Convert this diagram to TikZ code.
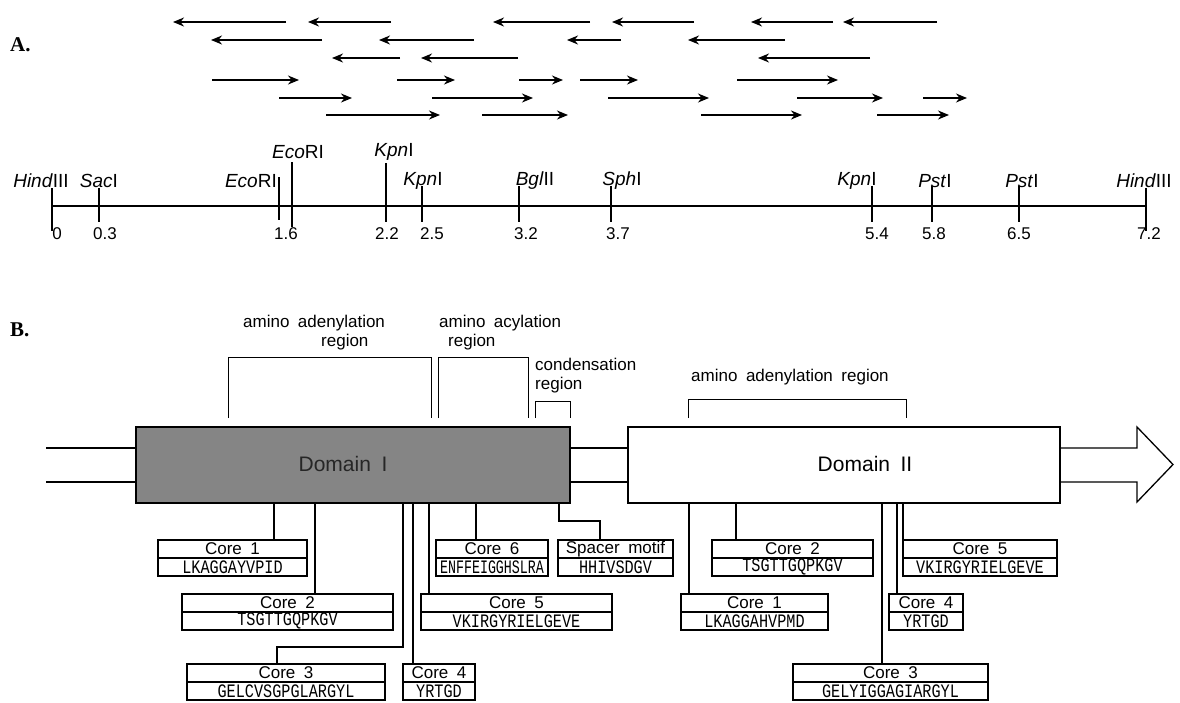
\documentclass[tikz,border=0pt]{standalone}
\usepackage{fontspec}
\setmainfont{Liberation Sans}
\setmonofont{Liberation Mono}
\newfontfamily\figletter{Liberation Serif}
\usepackage{graphicx}
\usetikzlibrary{arrows.meta,positioning}
\newcommand{\aaseq}[2][0.8]{\scalebox{#1}[1]{#2}}

\begin{document}
\begin{tikzpicture}[
  x=1pt, y=-1pt,
  font=\fontsize{17}{19}\selectfont,
  panel/.style={font=\figletter\bfseries\fontsize{21}{21}\selectfont, inner sep=0pt},
  seqread/.style={-{Stealth[length=11pt,width=9pt,inset=3.5pt]}, line width=1.3pt},
  rsite/.style={font=\fontsize{19}{21}\selectfont, inner sep=0pt},
  kb/.style={font=\fontsize{17}{19}\selectfont, inner sep=0pt},
  sitetick/.style={line width=1.4pt},
  regbracket/.style={line width=0.9pt},
  reglabel/.style={inner sep=0pt, anchor=west},
  dombox/.style={draw, line width=1.6pt, minimum height=76pt, inner sep=0pt, outer sep=0pt},
  domtext/.style={font=\fontsize{21}{23}\selectfont, inner sep=0pt},
  strand/.style={line width=1.3pt},
  corehead/.style={draw, line width=1.4pt, minimum height=18pt, inner sep=0pt, outer sep=0pt},
  coreseq/.style={draw, line width=1.4pt, minimum height=18pt, inner sep=0pt, outer sep=0pt,
                  font=\ttfamily\fontsize{19}{19}\selectfont},
  link/.style={line width=1.4pt}
]
\useasboundingbox (0,0) rectangle (1180,702);

% --- A: sequenced fragments ---
\node[panel, anchor=west] (panA) at (10,45) {A.};
\draw[seqread] (286,22) -- (173,22);  \draw[seqread] (391,22) -- (308,22);
\draw[seqread] (590,22) -- (493,22);  \draw[seqread] (694,22) -- (612,22);
\draw[seqread] (833,22) -- (751,22);  \draw[seqread] (937,22) -- (843,22);
\draw[seqread] (322,40) -- (211,40);  \draw[seqread] (474,40) -- (379,40);
\draw[seqread] (621,40) -- (567,40);  \draw[seqread] (785,40) -- (688,40);
\draw[seqread] (400,58) -- (332,58);  \draw[seqread] (518,58) -- (421,58);
\draw[seqread] (870,58) -- (758,58);
\draw[seqread] (212,80) -- (299,80);  \draw[seqread] (397,80) -- (455,80);
\draw[seqread] (519,80) -- (563,80);  \draw[seqread] (580,80) -- (638,80);
\draw[seqread] (737,80) -- (838,80);
\draw[seqread] (279,98) -- (352,98);  \draw[seqread] (432,98) -- (533,98);
\draw[seqread] (608,98) -- (709,98);  \draw[seqread] (797,98) -- (883,98);
\draw[seqread] (923,98) -- (967,98);
\draw[seqread] (326,115) -- (440,115); \draw[seqread] (482,115) -- (568,115);
\draw[seqread] (701,115) -- (802,115); \draw[seqread] (877,115) -- (949,115);

% --- A: restriction map ---
\draw[line width=1.7pt] (52,206) -- (1146,206);
\draw[sitetick] (52,188) -- (52,231);
\draw[sitetick] (99,188) -- (99,222);
\draw[sitetick] (279,177) -- (279,220);
\draw[sitetick] (292,162) -- (292,227);
\draw[sitetick] (386,163) -- (386,222);
\draw[sitetick] (422,186) -- (422,222);
\draw[sitetick] (519,186) -- (519,222);
\draw[sitetick] (611,186) -- (611,222);
\draw[sitetick] (872,186) -- (872,222);
\draw[sitetick] (932,186) -- (932,222);
\draw[sitetick] (1019,186) -- (1019,222);
\draw[sitetick] (1146,188) -- (1146,231);
\node[rsite] (hind1) at (41,181) {\textit{Hind}III};
\node[rsite] (sac) at (99,181) {\textit{Sac}I};
\node[rsite, anchor=east] (eco1) at (277,181) {\textit{Eco}RI};
\node[rsite] (eco2) at (298,152) {\textit{Eco}RI};
\node[rsite] (kpn1) at (394,152) {\textit{Kpn}I};
\node[rsite] (kpn2) at (423,181) {\textit{Kpn}I};
\node[rsite] (bgl) at (535,181) {\textit{Bgl}II};
\node[rsite] (sph) at (622,181) {\textit{Sph}I};
\node[rsite] (kpn3) at (857,181) {\textit{Kpn}I};
\node[rsite] (pst1) at (935,181) {\textit{Pst}I};
\node[rsite] (pst2) at (1022,181) {\textit{Pst}I};
\node[rsite] (hind2) at (1144,181) {\textit{Hind}III};
\node[kb] (k00) at (57,234) {0};
\node[kb] (k03) at (105,234) {0.3};
\node[kb] (k16) at (286,234) {1.6};
\node[kb] (k22) at (387,234) {2.2};
\node[kb] (k25) at (432,234) {2.5};
\node[kb] (k32) at (526,234) {3.2};
\node[kb] (k37) at (618,234) {3.7};
\node[kb] (k54) at (877,234) {5.4};
\node[kb] (k58) at (934,234) {5.8};
\node[kb] (k65) at (1019,234) {6.5};
\node[kb] (k72) at (1149,234) {7.2};

% --- B: regions ---
\node[panel, anchor=west] (panB) at (10,330) {B.};
\node[reglabel] (ad1a) at (243,323) {amino\enspace adenylation};
\node[reglabel] (ad1b) at (321,342) {region};
\node[reglabel] (acya) at (439,323) {amino\enspace acylation};
\node[reglabel] (acyb) at (448,342) {region};
\node[reglabel, align=left] (cond) at (535,376) {condensation\\region};
\node[reglabel] (ad2) at (691,377) {amino\enspace adenylation\enspace region};
\draw[regbracket] (228,418) |- (431,357) -- (431,418);
\draw[regbracket] (438,418) |- (528,357) -- (528,418);
\draw[regbracket] (535,418) |- (570,401) -- (570,418);
\draw[regbracket] (688,418) |- (906,399) -- (906,418);

% --- B: domains ---
\node[dombox, fill=black!48, minimum width=434pt] (dom1) at (353,465) {};
\node[domtext, text=black!85] (dom1t) at (343,464) {Domain\enspace I};
\node[dombox, fill=white, minimum width=432pt] (dom2) at (844,465) {};
\node[domtext] (dom2t) at (865,464) {Domain\enspace II};
\draw[strand] ([yshift=17pt]dom1.west) -- ++(-90,0);
\draw[strand] ([yshift=-17pt]dom1.west) -- ++(-90,0);
\draw[strand] ([yshift=17pt]dom1.east) -- ([yshift=17pt]dom2.west);
\draw[strand] ([yshift=-17pt]dom1.east) -- ([yshift=-17pt]dom2.west);
\draw[strand] ([yshift=17pt]dom2.east) -- ++(77,0) -- ++(0,-21) -- ++(36,37.5)
  -- ++(-36,37.5) -- ++(0,-20) -- ([yshift=-17pt]dom2.east);

% --- B: domain I cores ---
\node[corehead, minimum width=149pt] (ac1h) at (232.5,549) {Core\enspace 1};
\node[coreseq, minimum width=149pt, below=0pt of ac1h] (ac1s) {\aaseq{LKAGGAYVPID}};
\node[corehead, minimum width=211pt] (ac2h) at (287.5,603) {Core\enspace 2};
\node[coreseq, minimum width=211pt, below=0pt of ac2h] (ac2s) {\aaseq{TSGTTGQPKGV}};
\node[corehead, minimum width=198pt] (ac3h) at (286,673) {Core\enspace 3};
\node[coreseq, minimum width=198pt, below=0pt of ac3h] (ac3s) {\aaseq{GELCVSGPGLARGYL}};
\node[corehead, minimum width=72pt] (ac4h) at (439,673) {Core\enspace 4};
\node[coreseq, minimum width=72pt, below=0pt of ac4h] (ac4s) {\aaseq{YRTGD}};
\node[corehead, minimum width=191pt] (ac5h) at (516.5,603) {Core\enspace 5};
\node[coreseq, minimum width=191pt, below=0pt of ac5h] (ac5s) {\aaseq{VKIRGYRIELGEVE}};
\node[corehead, minimum width=112pt] (ac6h) at (492,549) {Core\enspace 6};
\node[coreseq, minimum width=112pt, below=0pt of ac6h] (ac6s) {\aaseq[0.7]{ENFFEIGGHSLRA}};
\node[corehead, minimum width=115pt] (sph) at (615.5,549) {Spacer\enspace motif};
\node[coreseq, minimum width=115pt, below=0pt of sph] (sps) {\aaseq{HHIVSDGV}};

\coordinate (ka1) at (274,503);
\coordinate (ka2) at (315,503);
\coordinate (ka3) at (403,503);
\coordinate (ka4) at (413,503);
\coordinate (ka5) at (429,503);
\coordinate (ka6) at (476,503);
\coordinate (ka7) at (559,503);
\draw[link] (ka1) -- (ka1 |- ac1h.north);
\draw[link] (ka2) -- (ka2 |- ac2h.north);
\draw[link] (ka3) -- ++(0,144) -| ([xshift=-9pt]ac3h.north);
\draw[link] (ka4) -- (ka4 |- ac4h.north);
\draw[link] (ka5) -- (ka5 |- ac5h.north);
\draw[link] (ka6) -- (ka6 |- ac6h.north);
\draw[link] (ka7) -- ++(0,18) -| ([xshift=-15.5pt]sph.north);

% --- B: domain II cores ---
\node[corehead, minimum width=147pt] (bc1h) at (754.5,603) {Core\enspace 1};
\node[coreseq, minimum width=147pt, below=0pt of bc1h] (bc1s) {\aaseq{LKAGGAHVPMD}};
\node[corehead, minimum width=161pt] (bc2h) at (792.5,549) {Core\enspace 2};
\node[coreseq, minimum width=161pt, below=0pt of bc2h] (bc2s) {\aaseq{TSGTTGQPKGV}};
\node[corehead, minimum width=195pt] (bc3h) at (890.5,673) {Core\enspace 3};
\node[coreseq, minimum width=195pt, below=0pt of bc3h] (bc3s) {\aaseq{GELYIGGAGIARGYL}};
\node[corehead, minimum width=74pt] (bc4h) at (926,603) {Core\enspace 4};
\node[coreseq, minimum width=74pt, below=0pt of bc4h] (bc4s) {\aaseq{YRTGD}};
\node[corehead, minimum width=154pt] (bc5h) at (980,549) {Core\enspace 5};
\node[coreseq, minimum width=154pt, below=0pt of bc5h] (bc5s) {\aaseq{VKIRGYRIELGEVE}};

\coordinate (kb1) at (689,503);
\coordinate (kb2) at (736,503);
\coordinate (kb3) at (882,503);
\coordinate (kb4) at (897,503);
\coordinate (kb5) at (903,503);
\draw[link] (kb1) -- (kb1 |- bc1h.north);
\draw[link] (kb2) -- (kb2 |- bc2h.north);
\draw[link] (kb3) -- (kb3 |- bc3h.north);
\draw[link] (kb4) -- (kb4 |- bc4h.north);
\draw[link] (kb5) -- (kb5 |- bc5h.north);
\end{tikzpicture}
\end{document}
